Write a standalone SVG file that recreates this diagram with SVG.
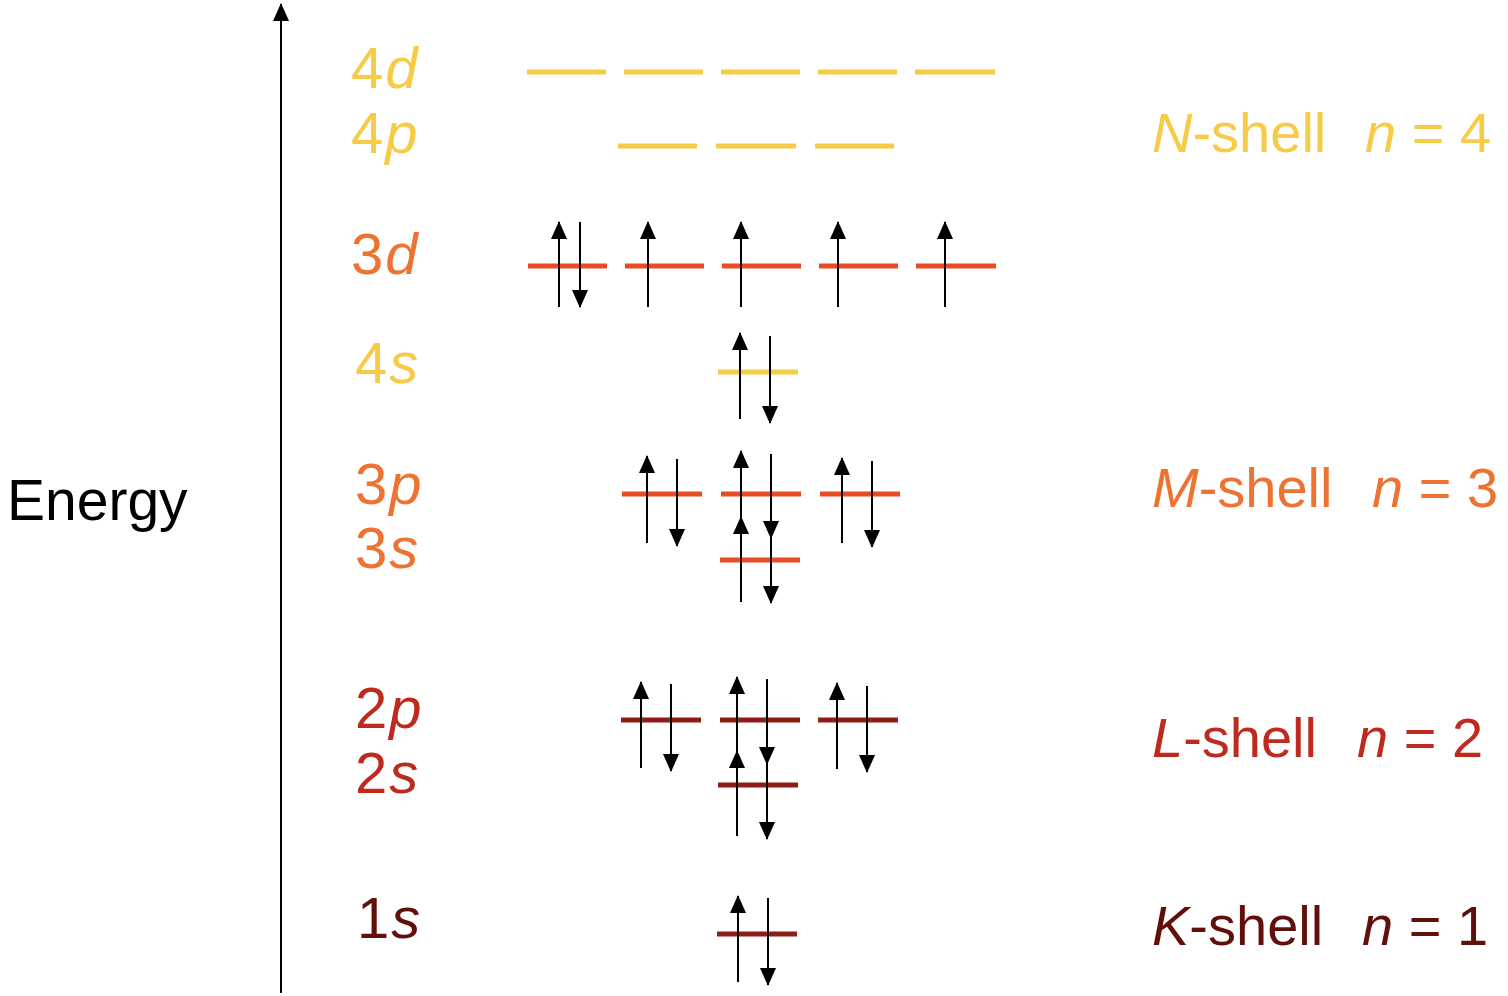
<svg xmlns="http://www.w3.org/2000/svg" width="1508" height="996" viewBox="0 0 1508 996">
<style>
text{font-family:"Liberation Sans",Arial,sans-serif;font-size:56px}
.lab{font-size:58px;letter-spacing:2px}
.en{font-size:57px}
.i{font-style:italic}
.y{fill:#F8CB46}.o{fill:#EE7231}.r{fill:#BE2A1E}.k{fill:#600F0A}
.ly{stroke:#F8CB46;stroke-width:5}
.lo{stroke:#E94B25;stroke-width:5}
.lr{stroke:#8F1D15;stroke-width:5}
.e{stroke:#000;stroke-width:2;fill:none;marker-end:url(#ah)}
</style>
<defs>
<marker id="ah" viewBox="0 0 18 16" refX="17" refY="8" markerWidth="18" markerHeight="16" markerUnits="userSpaceOnUse" orient="auto">
<path d="M0,0 L18,8 L0,16 Z" fill="#000"/>
</marker>
<marker id="axh" viewBox="0 0 18 16" refX="17" refY="8" markerWidth="18" markerHeight="16" markerUnits="userSpaceOnUse" orient="auto">
<path d="M0,0 L18,8 L0,16 Z" fill="#000"/>
</marker>
</defs>
<rect width="1508" height="996" fill="#fff"/>
<g id="axis">
<line x1="281" y1="993" x2="281" y2="4" stroke="#000" stroke-width="2" marker-end="url(#axh)"/>
<text x="7" y="520" class="en" fill="#000">Energy</text>
</g>
<g id="level-4d">
<text x="351" y="88" class="lab y">4<tspan class="i">d</tspan></text>
<line class="ly" x1="527" y1="72" x2="606" y2="72"/>
<line class="ly" x1="624" y1="72" x2="703" y2="72"/>
<line class="ly" x1="721" y1="72" x2="800" y2="72"/>
<line class="ly" x1="818" y1="72" x2="897" y2="72"/>
<line class="ly" x1="915" y1="72" x2="995" y2="72"/>
</g>
<g id="level-4p">
<text x="351" y="153" class="lab y">4<tspan class="i">p</tspan></text>
<line class="ly" x1="618" y1="146" x2="697" y2="146"/>
<line class="ly" x1="716" y1="146" x2="796" y2="146"/>
<line class="ly" x1="815" y1="146" x2="894" y2="146"/>
</g>
<g id="level-3d">
<text x="351" y="274" class="lab o">3<tspan class="i">d</tspan></text>
<line class="lo" x1="528" y1="266" x2="607" y2="266"/>
<line class="lo" x1="625" y1="266" x2="704" y2="266"/>
<line class="lo" x1="722" y1="266" x2="801" y2="266"/>
<line class="lo" x1="819" y1="266" x2="898" y2="266"/>
<line class="lo" x1="916" y1="266" x2="996" y2="266"/>
</g>
<g id="level-4s">
<text x="355" y="383" class="lab y">4<tspan class="i">s</tspan></text>
<line class="ly" x1="718" y1="372" x2="798" y2="372"/>
</g>
<g id="level-3p">
<text x="355" y="504" class="lab o">3<tspan class="i">p</tspan></text>
<line class="lo" x1="622" y1="494" x2="702" y2="494"/>
<line class="lo" x1="721" y1="494" x2="801" y2="494"/>
<line class="lo" x1="820" y1="494" x2="900" y2="494"/>
</g>
<g id="level-3s">
<text x="355" y="568" class="lab o">3<tspan class="i">s</tspan></text>
<line class="lo" x1="720" y1="560" x2="800" y2="560"/>
</g>
<g id="level-2p">
<text x="355" y="728" class="lab r">2<tspan class="i">p</tspan></text>
<line class="lr" x1="621" y1="720" x2="701" y2="720"/>
<line class="lr" x1="720" y1="720" x2="800" y2="720"/>
<line class="lr" x1="818" y1="720" x2="898" y2="720"/>
</g>
<g id="level-2s">
<text x="355" y="793" class="lab r">2<tspan class="i">s</tspan></text>
<line class="lr" x1="718" y1="785" x2="798" y2="785"/>
</g>
<g id="level-1s">
<text x="357" y="938" class="lab k">1<tspan class="i">s</tspan></text>
<line class="lr" x1="717" y1="934" x2="797" y2="934"/>
</g>
<g id="shell-N">
<text x="1152" y="152" class="y"><tspan class="i">N</tspan>-shell</text>
<text x="1365" y="152" class="y"><tspan class="i">n</tspan> = 4</text>
</g>
<g id="shell-M">
<text x="1152" y="507" class="o"><tspan class="i">M</tspan>-shell</text>
<text x="1372" y="507" class="o"><tspan class="i">n</tspan> = 3</text>
</g>
<g id="shell-L">
<text x="1152" y="757" class="r"><tspan class="i">L</tspan>-shell</text>
<text x="1357" y="757" class="r"><tspan class="i">n</tspan> = 2</text>
</g>
<g id="shell-K">
<text x="1152" y="945" class="k"><tspan class="i">K</tspan>-shell</text>
<text x="1362" y="945" class="k"><tspan class="i">n</tspan> = 1</text>
</g>
<g id="connectors">
<line class="e" x1="559" y1="307" x2="559" y2="222"/>
<line class="e" x1="580" y1="222" x2="580" y2="307"/>
<line class="e" x1="648" y1="307" x2="648" y2="222"/>
<line class="e" x1="741" y1="307" x2="741" y2="222"/>
<line class="e" x1="838" y1="307" x2="838" y2="222"/>
<line class="e" x1="945" y1="307" x2="945" y2="222"/>
<line class="e" x1="740" y1="419" x2="740" y2="333"/>
<line class="e" x1="770" y1="336" x2="770" y2="423"/>
<line class="e" x1="647" y1="543" x2="647" y2="456"/>
<line class="e" x1="677" y1="459" x2="677" y2="546"/>
<line class="e" x1="741" y1="537" x2="741" y2="451"/>
<line class="e" x1="771" y1="454" x2="771" y2="538"/>
<line class="e" x1="842" y1="543" x2="842" y2="458"/>
<line class="e" x1="872" y1="461" x2="872" y2="547"/>
<line class="e" x1="741" y1="602" x2="741" y2="517"/>
<line class="e" x1="771" y1="520" x2="771" y2="603"/>
<line class="e" x1="641" y1="768" x2="641" y2="682"/>
<line class="e" x1="671" y1="684" x2="671" y2="771"/>
<line class="e" x1="737" y1="762" x2="737" y2="677"/>
<line class="e" x1="767" y1="679" x2="767" y2="764"/>
<line class="e" x1="837" y1="769" x2="837" y2="683"/>
<line class="e" x1="867" y1="686" x2="867" y2="772"/>
<line class="e" x1="737" y1="836" x2="737" y2="751"/>
<line class="e" x1="767" y1="754" x2="767" y2="839"/>
<line class="e" x1="738" y1="982" x2="738" y2="896"/>
<line class="e" x1="768" y1="898" x2="768" y2="985"/>
</g>
</svg>
